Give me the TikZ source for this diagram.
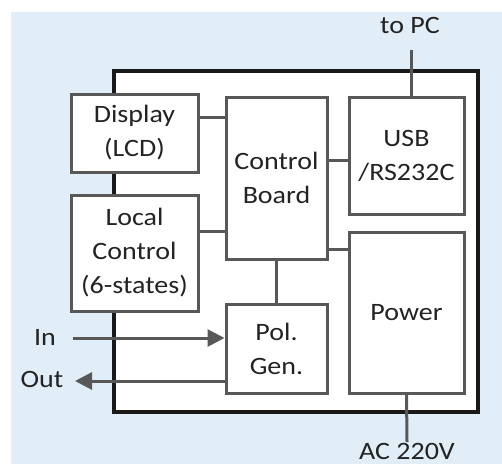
\documentclass[tikz,border=0pt]{standalone}
\usepackage{fontspec}
\setmainfont[FakeStretch=1.12]{Carlito}
\usetikzlibrary{arrows.meta,calc}
\definecolor{bgblue}{RGB}{226,238,247}
\definecolor{linegray}{RGB}{88,88,88}
\definecolor{txtgray}{RGB}{35,35,35}
\tikzset{
  box/.style={draw=linegray,line width=3pt,fill=white,align=center,inner sep=0pt,text=txtgray},
  wire/.style={draw=linegray,line width=3pt},
  arr/.style={wire,-{Triangle[length=17pt,width=17pt]}},
  lbl/.style={text=txtgray,anchor=base,inner sep=0pt}
}

\begin{document}
\begin{tikzpicture}[x=1pt,y=-1pt,font=\fontsize{25}{34}\selectfont]
\useasboundingbox (0,0) rectangle (502,464);
\fill[white] (0,0) rectangle (502,464);
\fill[bgblue] (11,12) rectangle (502,464);
% housing
\draw[line width=3.4pt,draw=black!90,fill=white] (114,71) rectangle (478,412);
% blocks
\node[box,minimum width=127pt,minimum height=78pt] (disp) at (134.5,133) {Display\\(LCD)};
\node[box,minimum width=127pt,minimum height=116pt] (loc) at (134.5,253) {Local\\Control\\(6-states)};
\node[box,minimum width=101pt,minimum height=162pt] (ctrl) at (276.5,178) {Control\\Board};
\node[box,minimum width=101pt,minimum height=89pt] (pol) at (276.5,348.5) {Pol.\\Gen.};
\node[box,minimum width=115pt,minimum height=117pt] (usb) at (406.5,155.5) {USB\\/RS232C};
\node[box,minimum width=115pt,minimum height=161pt] (pwr) at (406.5,312.5) {Power};
% outside labels
\node[lbl] (topc) at (410,33) {to PC};
\node[lbl] (acv) at (407,459) {AC 220V};
\node[lbl] (inl) at (45,345) {In};
\node[lbl] (outl) at (42,387) {Out};
% wiring
\coordinate (dc) at ([yshift=16pt]disp.east);
\coordinate (lc) at ([yshift=22pt]loc.east);
\coordinate (uc) at ([yshift=-4.5pt]usb.west);
\coordinate (pc) at ([yshift=63.5pt]pwr.west);
\coordinate (pcl) at (411,50);
\coordinate (acl) at (407,442);
\coordinate (ins) at (73,338);
\coordinate (oute) at (75,381);
\draw[wire] (dc) -- (dc -| ctrl.west);
\draw[wire] (lc) -- (lc -| ctrl.west);
\draw[wire] (uc) -- (uc -| ctrl.east);
\draw[wire] (pc) -- (pc -| ctrl.east);
\draw[wire] (ctrl.south) -- (pol.north);
\draw[wire] (pcl) -- (pcl |- usb.north);
\draw[wire] (pwr.south) -- (acl);
\draw[arr] (ins) -- (ins -| pol.west);
\draw[arr] (oute -| pol.west) -- (oute);
\end{tikzpicture}
\end{document}
